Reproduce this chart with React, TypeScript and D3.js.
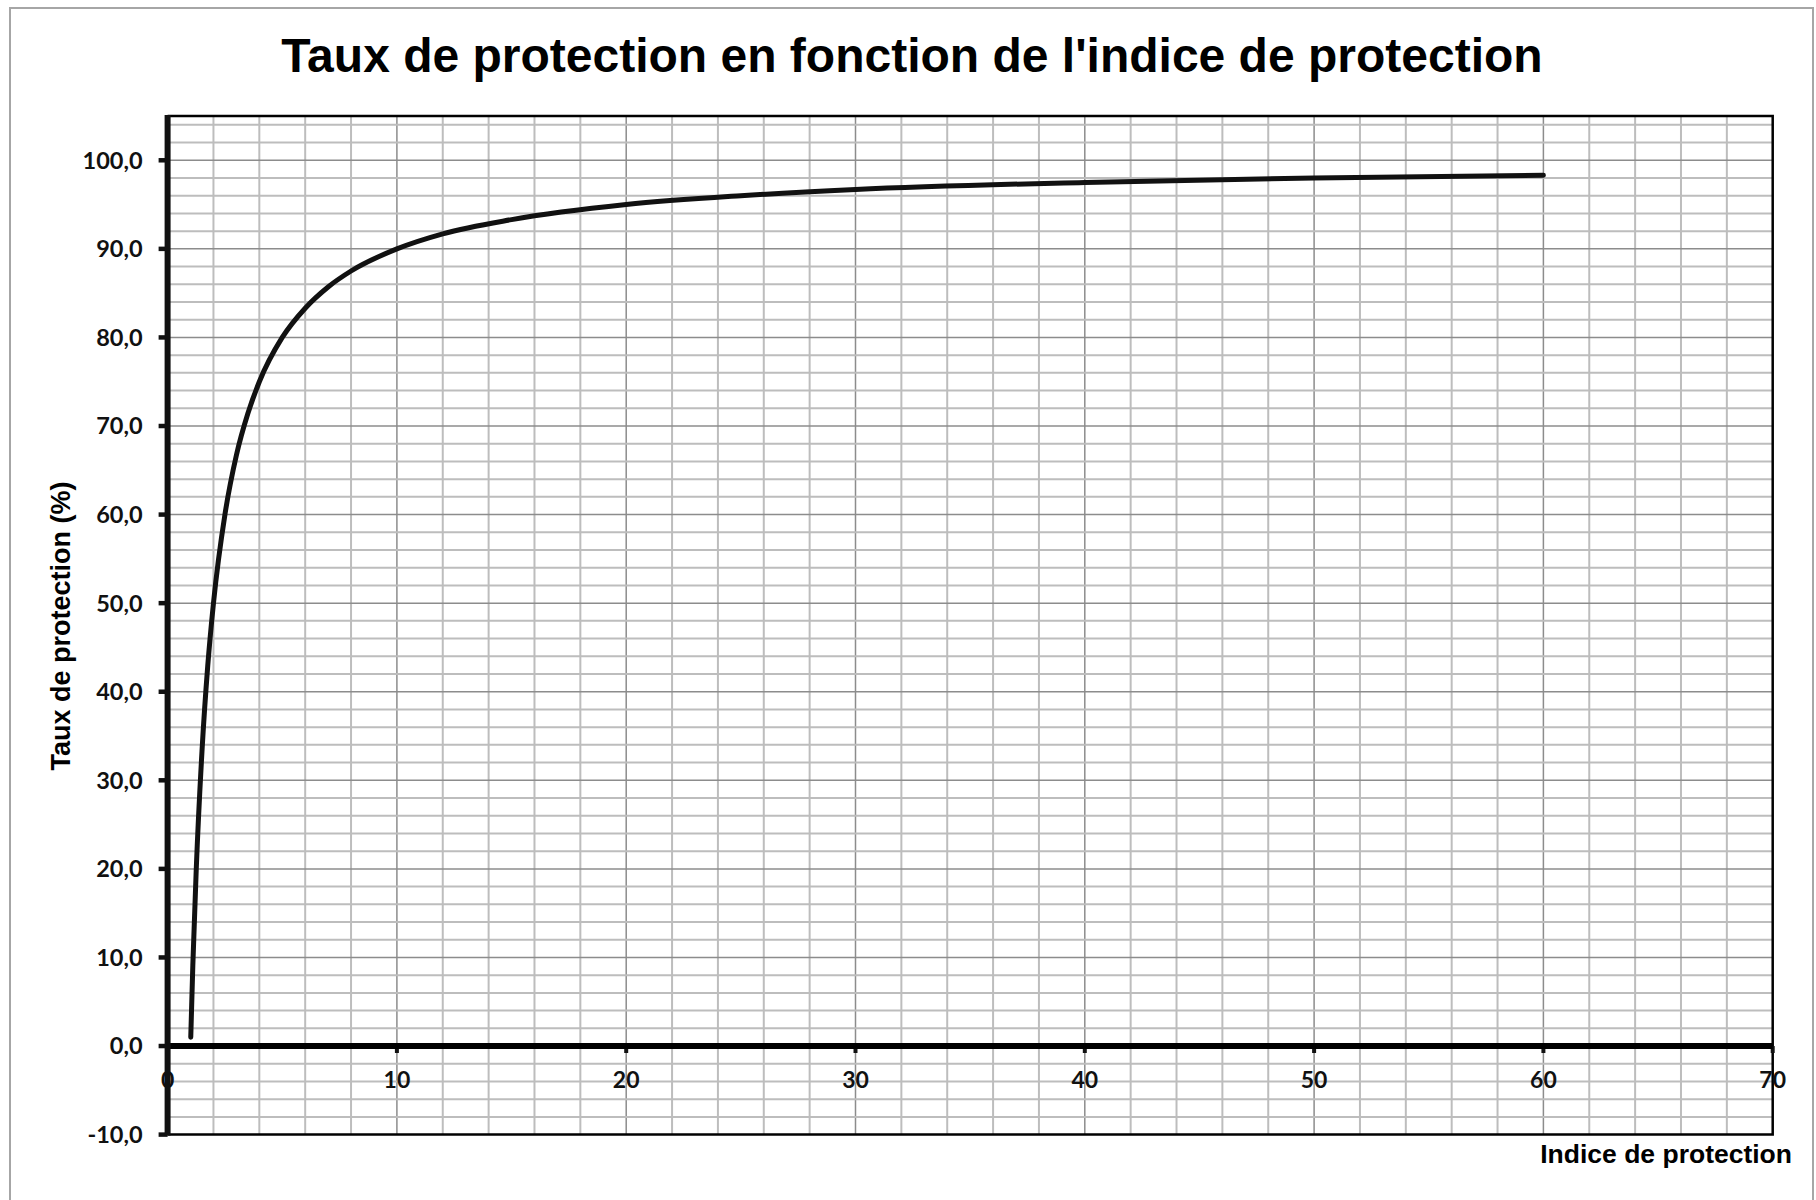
import React, { useEffect, useRef } from 'react';
import * as d3 from 'd3';

// values
const indexValues = [1.01, 1.1, 1.25, 1.5, 1.75, 2, 2.5, 3, 3.5, 4, 5, 6, 7, 8, 10, 12, 15, 20, 25, 30, 40, 50, 60];
const rateValues = [1.0, 9.1, 20.0, 33.3, 42.9, 50.0, 60.0, 66.7, 71.4, 75.0, 80.0, 83.3, 85.7, 87.5, 90.0, 91.7, 93.3, 95.0, 96.0, 96.7, 97.5, 98.0, 98.3];
const xTicks = [0, 10, 20, 30, 40, 50, 60, 70];
const yTicks = [-10, 0, 10, 20, 30, 40, 50, 60, 70, 80, 90, 100];

const title = "Taux de protection en fonction de l'indice de protection";
const xTitle = 'Indice de protection';
const yTitle = 'Taux de protection (%)';

const App = () => {
  const svgRef = useRef<SVGSVGElement | null>(null);

  useEffect(() => {
    const width = 1816;
    const height = 1200;
    const margin = { top: 116, right: 43.3, bottom: 65.4, left: 167.6 };

    const svg = d3.select(svgRef.current);
    svg.selectAll('*').remove();
    svg.attr('width', width).attr('height', height);

    svg.append('rect')
      .attr('width', width).attr('height', height)
      .attr('fill', 'white');

    // outer frame
    svg.append('rect')
      .attr('x', 10).attr('y', 8)
      .attr('width', 1803).attr('height', 1205)
      .attr('fill', 'none')
      .attr('stroke', '#a6a6a6')
      .attr('stroke-width', 2);

    const x = d3.scaleLinear().domain([0, 70]).range([margin.left, width - margin.right]);
    const y = d3.scaleLinear().domain([-10, 105]).range([height - margin.bottom, margin.top]);

    const data = indexValues.map((v, i) => ({ x: v, y: rateValues[i] }));

    // grid
    const grid = svg.append('g');
    const xGrid = d3.range(2, 70, 2);
    const yGrid = d3.range(-8, 106, 2);
    grid.selectAll('.vx')
      .data(xGrid)
      .enter().append('line')
      .attr('x1', d => x(d)).attr('x2', d => x(d))
      .attr('y1', y(105)).attr('y2', y(-10))
      .attr('stroke', d => (d % 10 === 0 ? '#8c8c8c' : '#bdbdbd'))
      .attr('stroke-width', d => (d % 10 === 0 ? 1.5 : 2));
    grid.selectAll('.hy')
      .data(yGrid)
      .enter().append('line')
      .attr('x1', x(0)).attr('x2', x(70))
      .attr('y1', d => y(d)).attr('y2', d => y(d))
      .attr('stroke', d => (d % 10 === 0 ? '#8c8c8c' : '#bdbdbd'))
      .attr('stroke-width', d => (d % 10 === 0 ? 1.5 : 2));

    // plot border (top, right, bottom)
    svg.append('path')
      .attr('d', `M${x(0)},${y(105)}H${x(70)}V${y(-10)}H${x(0)}`)
      .attr('fill', 'none')
      .attr('stroke', '#000')
      .attr('stroke-width', 2.5);

    // y axis
    const fmt = (d: number) => d3.format('.1f')(d).replace('.', ',').replace('\u2212', '-');
    svg.selectAll('.ytick')
      .data(yTicks)
      .enter().append('line')
      .attr('x1', x(0) - 9).attr('x2', x(0))
      .attr('y1', d => y(d)).attr('y2', d => y(d))
      .attr('stroke', '#111')
      .attr('stroke-width', 4.5);
    svg.selectAll('.ylab')
      .data(yTicks)
      .enter().append('text')
      .attr('x', x(0) - 25)
      .attr('y', d => y(d))
      .attr('dy', '0.36em')
      .attr('text-anchor', 'end')
      .style('font-family', 'Lato, sans-serif')
      .style('font-weight', 700)
      .style('font-size', '23.5px')
      .attr('fill', '#111')
      .text(d => fmt(d));

    // x axis
    svg.selectAll('.xtick')
      .data(xTicks)
      .enter().append('line')
      .attr('x1', d => x(d)).attr('x2', d => x(d))
      .attr('y1', y(0)).attr('y2', y(0) + 7)
      .attr('stroke', '#111')
      .attr('stroke-width', 4);
    svg.selectAll('.xlab')
      .data(xTicks)
      .enter().append('text')
      .attr('x', d => x(d))
      .attr('y', y(0) + 42)
      .attr('text-anchor', 'middle')
      .style('font-family', 'Lato, sans-serif')
      .style('font-weight', 700)
      .style('font-size', '23px')
      .attr('fill', '#111')
      .text(d => String(d));

    svg.append('line')
      .attr('x1', x(0)).attr('x2', x(70))
      .attr('y1', y(0)).attr('y2', y(0))
      .attr('stroke', '#000')
      .attr('stroke-width', 6);
    svg.append('line')
      .attr('x1', x(0)).attr('x2', x(0))
      .attr('y1', y(105) - 1).attr('y2', y(-10) + 1)
      .attr('stroke', '#111')
      .attr('stroke-width', 6);

    // curve
    const line = d3.line<{ x: number; y: number }>()
      .x(d => x(d.x))
      .y(d => y(d.y))
      .curve(d3.curveMonotoneX);
    svg.append('path')
      .datum(data)
      .attr('d', line)
      .attr('fill', 'none')
      .attr('stroke', '#111')
      .attr('stroke-width', 5)
      .attr('stroke-linecap', 'round')
      .attr('stroke-linejoin', 'round');

    // titles
    svg.append('text')
      .attr('x', 912)
      .attr('y', 72)
      .attr('text-anchor', 'middle')
      .style('font-family', '"Liberation Sans", Arial, sans-serif')
      .style('font-weight', 700)
      .style('font-size', '48px')
      .attr('fill', '#000')
      .text(title);

    svg.append('text')
      .attr('x', 1792)
      .attr('y', 1163)
      .attr('text-anchor', 'end')
      .style('font-family', '"Liberation Sans", Arial, sans-serif')
      .style('font-weight', 700)
      .style('font-size', '26.5px')
      .attr('fill', '#000')
      .text(xTitle);

    svg.append('text')
      .attr('transform', 'translate(70,626) rotate(-90)')
      .attr('text-anchor', 'middle')
      .style('font-family', '"Liberation Sans", Arial, sans-serif')
      .style('font-weight', 700)
      .style('font-size', '27px')
      .attr('fill', '#000')
      .text(yTitle);
  }, []);

  return (
    <svg ref={svgRef} style={{ position: 'absolute', left: 0, top: 0, display: 'block' }}></svg>
  );
};

export default App;
